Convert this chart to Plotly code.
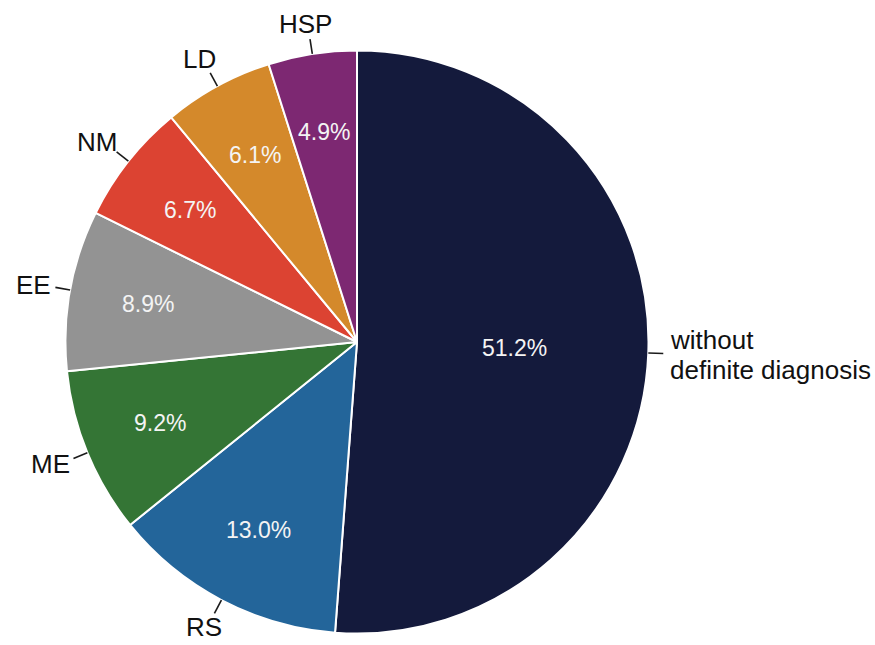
import math
import plotly.graph_objects as go

# ---- data ----
labels = ["without<br>definite diagnosis", "RS", "ME", "EE", "NM", "LD", "HSP"]
values = [51.2, 13.0, 9.2, 8.9, 6.7, 6.1, 4.9]
colors = ["#141a3c", "#23659a", "#347535", "#939393", "#dc4332", "#d4892b", "#7d2872"]

# ---- layout constants ----
W, H = 875, 645
CX, CY, R = 357, 342, 291.5
LABEL_FS = 26
LINE_H = 30
PCT_FS = 23
FONT = "Liberation Sans, Arial, sans-serif"
PCT_R_SMALL, PCT_R_LARGE = 0.73, 0.54   # radial position of % text (fraction of radius)

# approximate Arial advance widths (em) for label width estimation
CW = {"H": .722, "S": .667, "P": .667, "L": .556, "D": .722, "N": .722, "M": .833,
      "E": .667, "R": .722, " ": .278, "w": .722, "i": .222, "t": .278, "h": .556,
      "o": .556, "u": .556, "d": .556, "e": .556, "f": .278, "n": .556, "a": .556,
      "g": .556, "s": .5}


def text_w(line, fs):
    return sum(CW.get(ch, .556) for ch in line) * fs


fig = go.Figure(go.Pie(
    labels=labels, values=values, sort=False, direction="clockwise", rotation=0,
    marker=dict(colors=colors, line=dict(color="white", width=2)),
    textinfo="none",
    domain=dict(x=[(CX - R) / W, (CX + R) / W], y=[(H - CY - R) / H, (H - CY + R) / H]),
    showlegend=False, hoverinfo="label+percent",
))

total = sum(values)
cum = 0.0
shapes, annos = [], []
L_IN, L_OUT, GAP = 0.0, 15.0, 5.0
for lab, v in zip(labels, values):
    mid = (cum + v / 2) / total
    cum += v
    th = 2 * math.pi * mid
    s, c = math.sin(th), math.cos(th)

    # percentage text inside the slice
    k = PCT_R_LARGE if v / total > 0.25 else PCT_R_SMALL
    px, py = CX + k * R * s, CY - k * R * c
    annos.append(dict(x=px / W, y=1 - py / H, xref="paper", yref="paper",
                      text=f"{v / total * 100:.1f}%", showarrow=False,
                      xanchor="center", yanchor="middle",
                      font=dict(family=FONT, size=PCT_FS, color="#f4f4f4")))

    # leader line
    x0, y0 = CX + (R + L_IN) * s, CY - (R + L_IN) * c
    x1, y1 = CX + (R + L_OUT) * s, CY - (R + L_OUT) * c
    shapes.append(dict(type="line", xref="paper", yref="paper",
                       x0=x0 / W, y0=1 - y0 / H, x1=x1 / W, y1=1 - y1 / H,
                       line=dict(color="#1a1a1a", width=1.6)))

    # outside category label (one annotation per text line)
    lines = lab.split("<br>")
    ax, ay = CX + (R + L_OUT + GAP) * s, CY - (R + L_OUT + GAP) * c
    w = max(text_w(ln, LABEL_FS) for ln in lines)
    n = len(lines)
    h = 0.8 * LABEL_FS if n == 1 else n * LINE_H
    hj = 0.5 - 0.5 * s
    vj = 0.5 + 0.5 * c
    tx = ax - (hj - 0.5) * w
    ty = ay - (vj - 0.5) * h
    for i, ln in enumerate(lines):
        ly = ty + (i - (n - 1) / 2) * LINE_H
        if n == 1:
            xa, xx = "center", tx
        else:
            xa, xx = "left", tx - w / 2
        annos.append(dict(x=xx / W, y=1 - ly / H, xref="paper", yref="paper",
                          text=ln, showarrow=False, xanchor=xa, yanchor="middle",
                          font=dict(family=FONT, size=LABEL_FS, color="#111111")))

fig.update_layout(
    width=W, height=H, margin=dict(l=0, r=0, t=0, b=0),
    paper_bgcolor="white", plot_bgcolor="white",
    shapes=shapes, annotations=annos,
)

fig.write_html("out.html")
